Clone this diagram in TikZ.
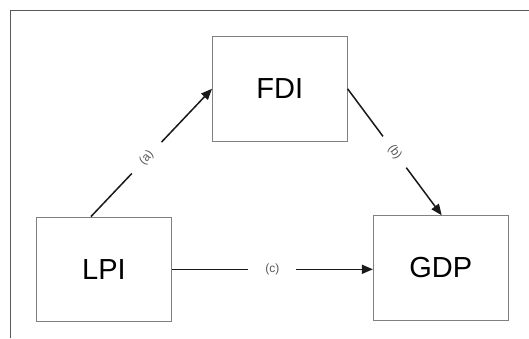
\documentclass[tikz,border=0pt]{standalone}
\usepackage{fontspec}
\setmainfont{Liberation Sans}
\usetikzlibrary{arrows.meta}
\begin{document}
\begin{tikzpicture}[x=1pt,y=-1pt,
  box/.style={draw=black!50,line width=1pt,minimum width=134.6pt,minimum height=104.5pt,inner sep=0pt,font=\fontsize{29}{29}\selectfont},
  conn/.style={draw=black!90,line width=1.5pt,-{Triangle[length=11pt,width=9pt]}},
  lbl/.style={fill=white,text=black!65,font=\fontsize{12}{12}\selectfont,inner xsep=14pt,inner ysep=3pt,sloped}]
\useasboundingbox (0,0) rectangle (529,338);
\fill[white] (0,0) rectangle (529,338);
\draw[black!65,line width=1pt] (529,10) -- (10,10) -- (10,338);
\node[box] (fdi) at (279.8,88.8) {FDI};
\node[box] (lpi) at (104,269.3) {LPI};
\node[box] (gdp) at (440.7,268) {GDP};
\draw[conn] ([xshift=-13pt]lpi.north) -- node[lbl,pos=0.46]{(a)} (fdi.west);
\draw[conn] (fdi.east) -- node[lbl,pos=0.5,inner xsep=12pt]{(b)} ([xshift=1pt]gdp.north);
\draw[conn] (lpi.east) -- node[lbl,pos=0.5,inner xsep=17pt]{(c)} (lpi.east -| gdp.west);
\end{tikzpicture}
\end{document}
